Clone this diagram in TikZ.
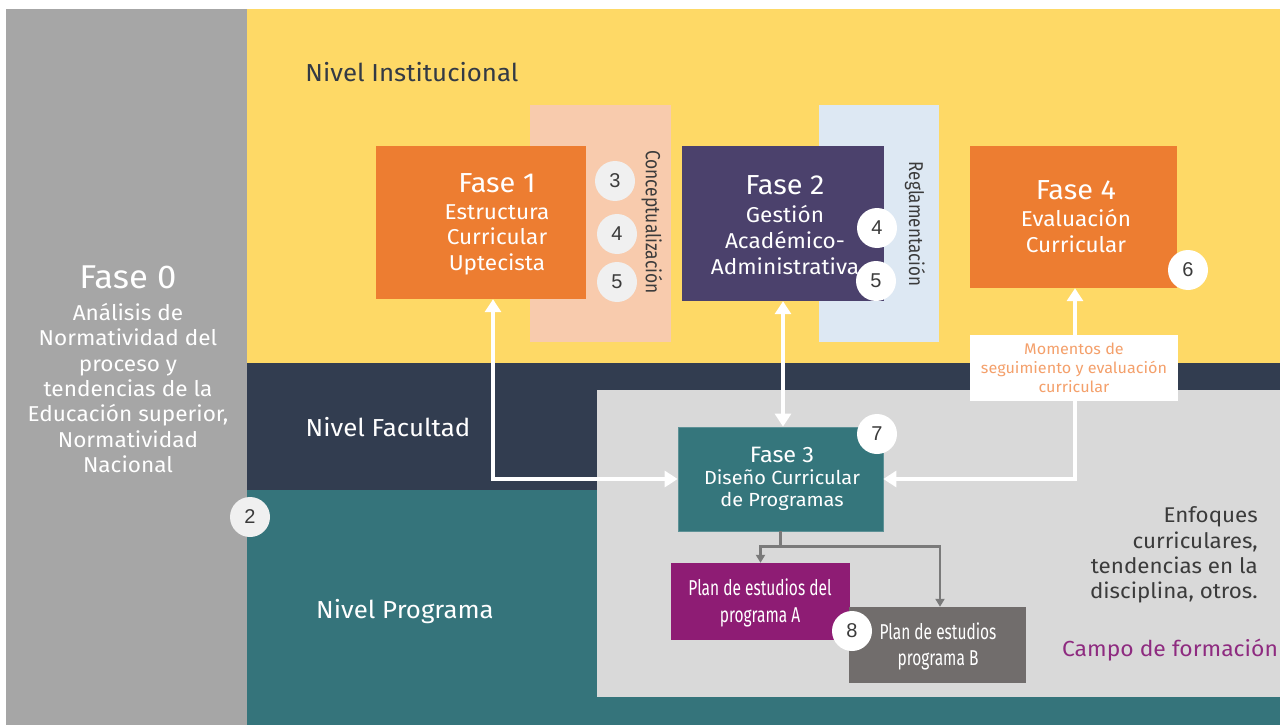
\documentclass[tikz,border=0pt]{standalone}
\usepackage{fontspec}
\setmainfont{Fira Sans}[FakeStretch=1.05]
\newfontfamily\condfont{Fira Sans}[FakeStretch=0.72]
\newfontfamily\rotfont{Fira Sans}[FakeStretch=0.85]
\newfontfamily\numfont{Liberation Sans}
\usetikzlibrary{arrows.meta}
\definecolor{cgray}{HTML}{A6A6A6}
\definecolor{cyellow}{HTML}{FED966}
\definecolor{cnavy}{HTML}{323D50}
\definecolor{cteal}{HTML}{35747B}
\definecolor{cpanel}{HTML}{D9D9D9}
\definecolor{corange}{HTML}{ED7D31}
\definecolor{cpeach}{HTML}{F8CBAD}
\definecolor{cpurple}{HTML}{4B416C}
\definecolor{cblue}{HTML}{DDE8F3}
\definecolor{cfase}{HTML}{35767C}
\definecolor{cplana}{HTML}{8E1C74}
\definecolor{cplanb}{HTML}{716D6C}
\definecolor{cdark}{HTML}{333A45}
\definecolor{ctext}{HTML}{3B3B3B}
\definecolor{cmom}{HTML}{F4A06B}
\definecolor{ccampo}{HTML}{8E2B80}
\definecolor{ccirc}{HTML}{F0F0F0}
\definecolor{cconn}{HTML}{7A7A7A}
\tikzset{
  box/.style={rectangle, inner sep=0pt, draw=none},
  txt/.style={inner sep=0pt, align=center},
  num/.style={circle, inner sep=0pt, minimum size=40pt, fill=white, text=ctext, font=\numfont\fontsize{20}{22}\selectfont},
  numg/.style={num, fill=ccirc},
  warrow/.style={draw=white, line width=4pt, {Triangle[width=16pt,length=13pt]}-{Triangle[width=16pt,length=13pt]}},
  garrow/.style={draw=cconn, line width=2.5pt, -{Triangle[width=9pt,length=8pt]}},
  gline/.style={draw=cconn, line width=2.5pt},
}
\begin{document}
\begin{tikzpicture}[x=1pt,y=-1pt]
\useasboundingbox (0,0) rectangle (1280,725);
% background bands
\fill[cgray] (6,9) rectangle (247,725);
\fill[cyellow] (247,9) rectangle (1280,363);
\fill[cnavy] (247,363) rectangle (1280,490);
\fill[cteal] (247,490) rectangle (1280,725);
\fill[cpanel] (597,390) rectangle (1280,697);

% level labels
\node[txt, text=cdark, font=\fontsize{24.6}{26}\selectfont] (ninst) at (412,72) {Nivel Institucional};
\node[txt, text=white, font=\fontsize{24.6}{26}\selectfont] (nfac) at (388,427) {Nivel Facultad};
\node[txt, text=white, font=\fontsize{24.6}{26}\selectfont] (nprog) at (405,612) {Nivel Programa};

% Fase 0
\node[txt, text=white, font=\fontsize{33}{34}\selectfont] (f0t) at (128,277) {Fase 0};
\node[txt, text=white, font=\fontsize{21.5}{25.3}\selectfont] (f0b) at (128,388)
  {Análisis de\\Normatividad del\\proceso y\\tendencias de la\\Educación superior,\\Normatividad\\Nacional};

% side bands
\node[box, fill=cpeach, minimum width=141pt, minimum height=237pt] (conc) at (600.5,223.5) {};
\node[box, fill=cblue, minimum width=120pt, minimum height=237pt] (regl) at (879,223.5) {};

% phase boxes
\node[box, fill=corange, minimum width=210pt, minimum height=153pt] (f1) at (481,222.5) {};
\node[box, fill=cpurple, minimum width=202pt, minimum height=155pt] (f2) at (783,223.5) {};
\node[box, fill=corange, minimum width=207pt, minimum height=142pt] (f4) at (1073.5,217) {};
\node[box, fill=cfase, draw=cfase!80!white, line width=0.8pt, minimum width=205pt, minimum height=104pt] (f3) at (780.5,479) {};
\node[box, fill=cplana, minimum width=179pt, minimum height=77pt] (pa) at (760.5,601.5) {};
\node[box, fill=cplanb, minimum width=177pt, minimum height=76pt] (pb) at (937.5,645) {};

% phase texts
\node[txt, text=white, font=\fontsize{27.5}{28}\selectfont] (f1t) at (497,183) {Fase 1};
\node[txt, text=white, font=\fontsize{21.5}{25.5}\selectfont] (f1b) at (497,239.5) {Estructura\\Curricular\\Uptecista};
\node[txt, text=white, font=\fontsize{27.5}{28}\selectfont] (f2t) at (785,185) {Fase 2};
\node[txt, text=white, font=\fontsize{21.5}{26}\selectfont] (f2b) at (785,240) {Gestión\\Académico-\\Administrativa};
\node[txt, text=white, font=\fontsize{27.5}{28}\selectfont] (f4t) at (1076,190) {Fase 4};
\node[txt, text=white, font=\fontsize{21.5}{26}\selectfont] (f4b) at (1076,231.5) {Evaluación\\Curricular};
\node[txt, text=white, font=\fontsize{22.3}{24}\selectfont] (f3t) at (782,455) {Fase 3};
\node[txt, text=white, font=\fontsize{19}{22}\selectfont] (f3b) at (782,490) {Diseño Curricular\\de Programas};
\node[txt, text=white, font=\condfont\fontsize{21.5}{27}\selectfont] (pat) at (760,602.5) {Plan de estudios del\\programa A};
\node[txt, text=white, font=\condfont\fontsize{21.5}{26}\selectfont] (pbt) at (938,646) {Plan de estudios\\programa B};

% rotated labels
\node[txt, text=ctext, rotate=-90, font=\rotfont\fontsize{20.5}{22}\selectfont] (conct) at (652,222) {Conceptualización};
\node[txt, text=ctext, rotate=-90, font=\rotfont\fontsize{20}{22}\selectfont] (reglt) at (915,224) {Reglamentación};

% white arrows
\draw[warrow] ([xshift=12pt]f1.south) |- (f3.west);
\draw[warrow] (f2.south) -- (f2.south |- f3.north);
\draw[warrow] ([xshift=1.5pt]f4.south) |- (f3.east);

% momentos box
\node[box, fill=white, minimum width=208pt, minimum height=66pt] (mom) at (1074,368) {};
\node[txt, text=cmom, font=\fontsize{15.4}{19}\selectfont] (momt) at (1074,368) {Momentos de\\seguimiento y evaluación\\curricular};

% gray connectors
\draw[gline] (f3.south) -- ++(0,15) coordinate (split);
\draw[garrow] (split) -| (pa.north);
\draw[garrow] (split) -| ([xshift=2.5pt]pb.north);

% right texts
\node[txt, align=right, anchor=east, text=ctext, font=\fontsize{21.3}{25.3}\selectfont] (enf) at (1258,555)
  {Enfoques\\curriculares,\\tendencias en la\\disciplina, otros.};
\node[txt, text=ccampo, font=\fontsize{21.8}{23}\selectfont] (campo) at (1170,650) {Campo de formación};

% numbered circles
\node[numg] (c3) at (615,181) {3};
\node[numg] (c4a) at (617,234) {4};
\node[numg] (c5a) at (617,282) {5};
\node[num] (c4b) at (877,228) {4};
\node[num] (c5b) at (876,281) {5};
\node[num] (c6) at (1188,270) {6};
\node[num] (c7) at (877,434) {7};
\node[num] (c8) at (852,631) {8};
\node[numg] (c2) at (250,517) {2};
\end{tikzpicture}
\end{document}
